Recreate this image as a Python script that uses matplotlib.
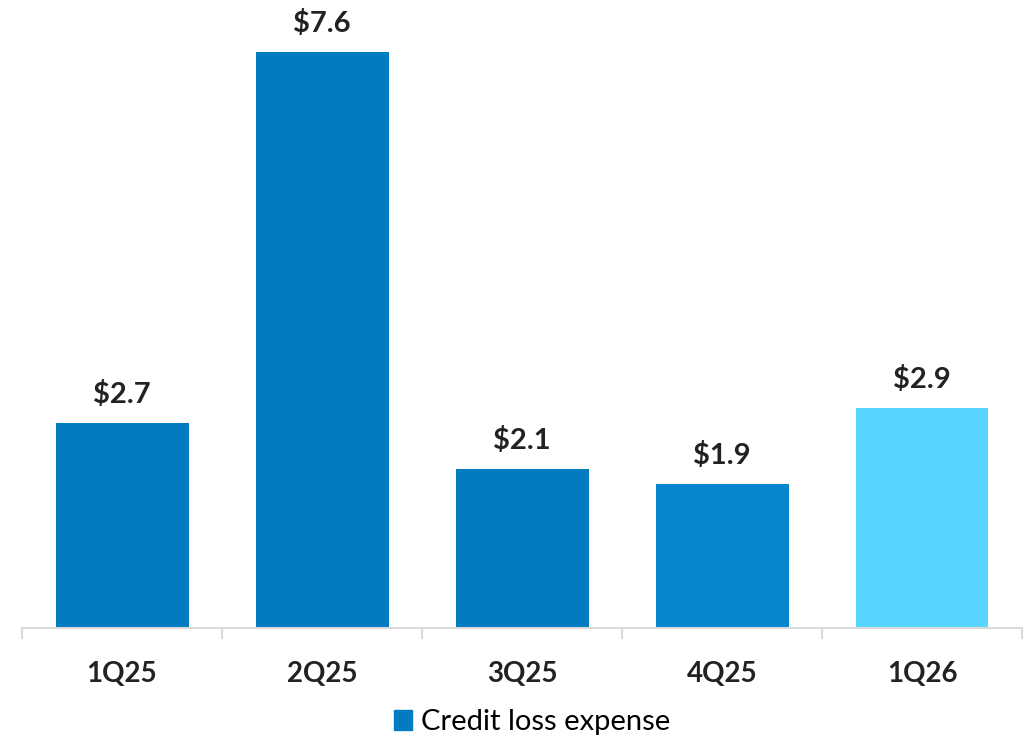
import matplotlib.pyplot as plt
import numpy as np

quarters = ["1Q25", "2Q25", "3Q25", "4Q25", "1Q26"]
credit_loss = [2.7, 7.6, 2.1, 1.9, 2.9]
bar_colors = ["#027BC0", "#027BC0", "#027BC0", "#0786D0", "#57D5FE"]

plt.rcParams["font.family"] = ["Lato", "DejaVu Sans"]

fig = plt.figure(figsize=(10.33, 7.42), dpi=100)
ax = fig.add_axes([22 / 1033, 114 / 742, 1000 / 1033, 606 / 742])

x = np.arange(len(quarters))
bars = ax.bar(x, credit_loss, width=0.665, color=bar_colors, zorder=2)

for xi, v in zip(x, credit_loss):
    ax.annotate(f"${v:.1f}", (xi, v), xytext=(0, 11), textcoords="offset points",
                ha="center", va="bottom", fontsize=21, fontweight="bold",
                color="#222222")

ax.set_xlim(-0.5, len(quarters) - 0.5)
ax.set_ylim(0, 8.0)
ax.set_xticks(x)
ax.set_xticklabels(quarters, fontsize=20, fontweight="bold", color="#222222")
ax.set_xticks(np.arange(-0.5, len(quarters)), minor=True)
ax.tick_params(axis="x", which="major", length=0, pad=24)
ax.tick_params(axis="x", which="minor", length=8, width=1.5, color="#D9D9D9")
ax.set_yticks([])

for side in ["top", "right", "left"]:
    ax.spines[side].set_visible(False)
ax.spines["bottom"].set_color("#D9D9D9")
ax.spines["bottom"].set_linewidth(1.5)

handle = plt.Rectangle((0, 0), 1, 1, color="#027BC0")
fig.legend([handle], ["Credit loss expense"], loc="center",
           bbox_to_anchor=(532 / 1033, 1 - 722 / 742), frameon=False,
           fontsize=21, handlelength=0.65, handleheight=0.7, handletextpad=0.3)

fig.savefig("out.png", dpi=100)
